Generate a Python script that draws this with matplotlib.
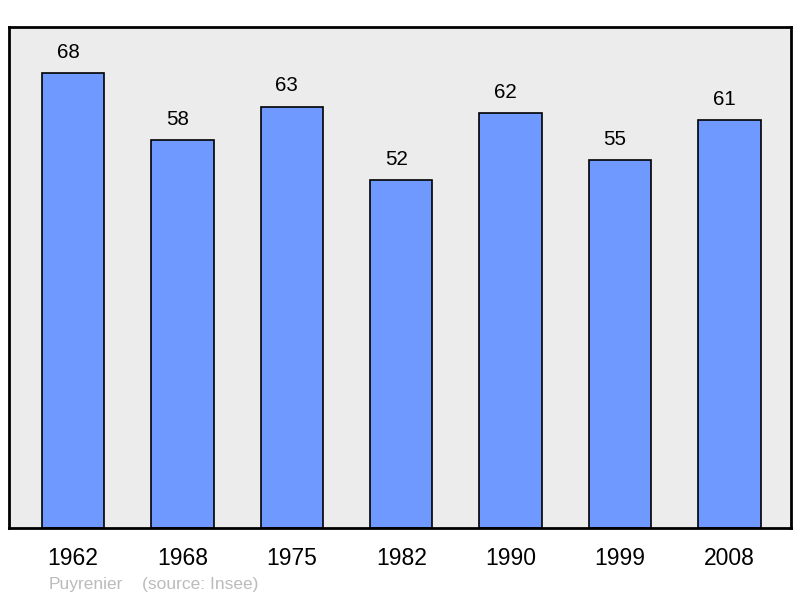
import matplotlib
matplotlib.use("Agg")
import matplotlib.pyplot as plt

years = ["1962", "1968", "1975", "1982", "1990", "1999", "2008"]
population = [68, 58, 63, 52, 62, 55, 61]

plt.rcParams['font.family'] = ['Liberation Sans', 'DejaVu Sans']

W, H = 800, 598
fig = plt.figure(figsize=(W / 100, H / 100), dpi=100)
ax = fig.add_axes([9 / W, (H - 528) / H, 782 / W, 501 / H])
ax.set_facecolor('#ececec')

x = list(range(len(years)))
ax.bar(x, population, width=0.57, color='#7099ff', edgecolor='black', linewidth=1.2, zorder=2)

for xi, v in zip(x, population):
    ax.annotate(str(v), (xi, v), xytext=(-3.6, 15.0), textcoords='offset points',
                ha='center', va='center', fontsize=14.8, color='black')

ax.set_xlim(-0.585, 6.563)
ax.set_ylim(0, 74.9)
ax.set_yticks([])
ax.set_xticks(x)
ax.set_xticklabels(years, fontsize=16.5)
ax.tick_params(axis='x', length=0, pad=14)
for s in ax.spines.values():
    s.set_linewidth(2)
    s.set_color('black')

fig.text(49 / W, 1 - 584 / H, "Puyrenier", color='#bbbbbb', fontsize=12.5, va='center', ha='left')
fig.text(142 / W, 1 - 584 / H, "(source: Insee)", color='#bbbbbb', fontsize=12.5, va='center', ha='left')

fig.savefig("out.png", dpi=100)
